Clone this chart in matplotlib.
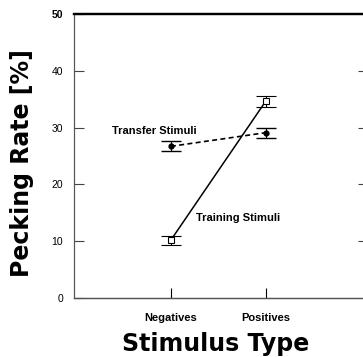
import matplotlib
matplotlib.use("Agg")
import matplotlib.pyplot as plt

# data
categories = ["Negatives", "Positives"]
training_rate = [10.2, 34.6]
training_err = [0.8, 1.0]
transfer_rate = [26.7, 29.1]
transfer_err = [0.9, 0.85]
y_ticks = [0, 10, 20, 30, 40, 50]

plt.rcParams["font.family"] = ["Liberation Sans", "DejaVu Sans"]

fig = plt.figure(figsize=(3.63, 3.57), dpi=100)
ax = fig.add_axes([74 / 363, 59 / 357, 289 / 363, 284 / 357])

x = [1, 2]

# training stimuli: solid line, open squares
ax.errorbar(x, training_rate, yerr=training_err, color="black", lw=1.1,
            marker="s", markersize=4, markerfacecolor="white",
            markeredgecolor="black", markeredgewidth=0.8,
            capsize=7, capthick=1.0, elinewidth=0.8, zorder=3)
# transfer stimuli: dashed line, filled dots
ax.errorbar(x, transfer_rate, yerr=transfer_err, color="black", lw=1.2,
            linestyle=(0, (3, 2)), marker="o", markersize=3.5,
            capsize=7, capthick=1.0, elinewidth=0.8, zorder=3)

ax.text(1.71, 14.1, "Training Stimuli", fontsize=8, fontweight="semibold",
        ha="center", va="center")
ax.text(0.82, 29.4, "Transfer Stimuli", fontsize=8, fontweight="semibold",
        ha="center", va="center")

ax.set_xlim(-0.024, 3.03)
ax.set_ylim(0, 50)
ax.set_xticks(x)
ax.set_xticklabels(categories, fontsize=8, fontweight="bold")
ax.set_yticks(y_ticks)
ax.set_yticklabels([str(v) for v in y_ticks], fontsize=7.5)
ax.get_yticklabels()[-1].set_fontweight("heavy")

ax.tick_params(axis="x", direction="in", length=7, width=0.8, pad=11)
ax.tick_params(axis="y", direction="in", length=7, width=0.8, pad=8,
               colors="#444444", labelcolor="black")

# short inward ticks on the right side
ax_r = ax.twinx()
ax_r.set_ylim(ax.get_ylim())
ax_r.set_yticks(y_ticks[1:-1])
ax_r.tick_params(axis="y", direction="in", length=3.5, width=0.8,
                 colors="#444444", labelright=False)
for a in (ax, ax_r):
    a.spines["right"].set_visible(False)
    a.spines["top"].set_linewidth(1.6)
    a.spines["left"].set_linewidth(0.8)
    a.spines["left"].set_color("#555555")
    a.spines["bottom"].set_linewidth(0.9)
    a.spines["bottom"].set_color("#555555")

ax.set_ylabel("Pecking Rate [%]", fontsize=17, fontweight="bold",
              family=["DejaVu Sans"])
ax.set_xlabel("Stimulus Type", fontsize=17, fontweight="bold",
              family=["DejaVu Sans"])
ax.yaxis.set_label_coords(-0.14, 0.475)
ax.xaxis.set_label_coords(0.49, -0.12)

fig.savefig("out.png", dpi=100)
